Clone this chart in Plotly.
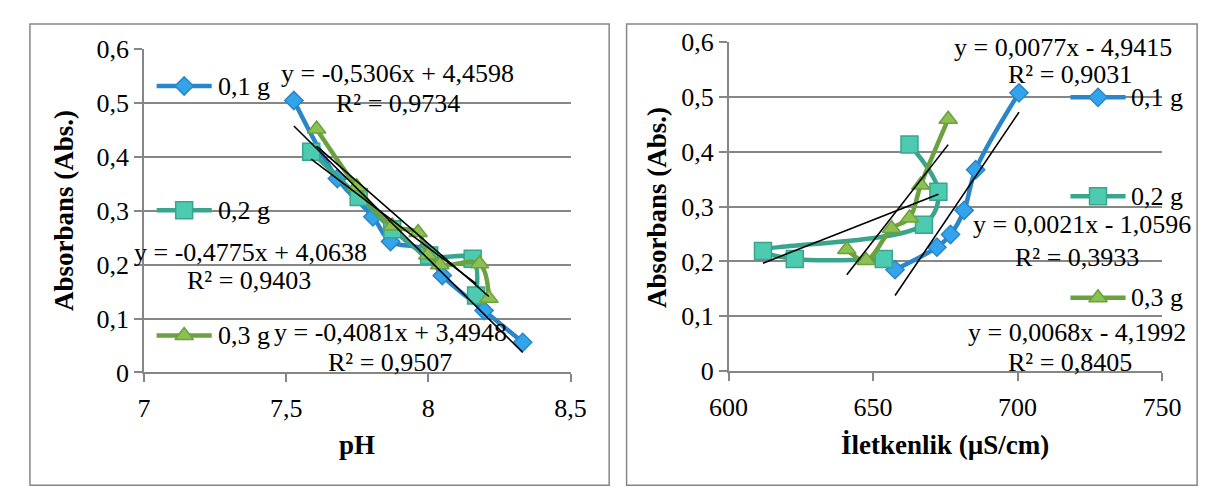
import numpy as np
import plotly.graph_objects as go

# ---------------- data ----------------
series_names = ["0,1 g", "0,2 g", "0,3 g"]

# left chart: pH vs absorbance
ph_01 = [7.527, 7.68, 7.805, 7.867, 7.986, 8.049, 8.196, 8.332]
abs_ph_01 = [0.505, 0.360, 0.289, 0.243, 0.228, 0.180, 0.115, 0.056]
ph_02 = [7.588, 7.755, 7.873, 8.003, 8.156, 8.168]
abs_ph_02 = [0.410, 0.326, 0.266, 0.217, 0.211, 0.143]
ph_03 = [7.607, 7.748, 7.873, 7.964, 7.998, 8.040, 8.180, 8.213]
abs_ph_03 = [0.452, 0.345, 0.272, 0.260, 0.218, 0.200, 0.202, 0.138]

# right chart: conductivity vs absorbance
cond_01 = [700.5, 685.5, 681.5, 676.8, 672.1, 657.6]
abs_c_01 = [0.507, 0.367, 0.293, 0.249, 0.226, 0.185]
cond_02 = [662.6, 672.6, 667.6, 611.9, 622.9, 653.7]
abs_c_02 = [0.413, 0.327, 0.267, 0.219, 0.2045, 0.2045]
cond_03 = [676.0, 666.5, 662.6, 656.4, 647.6, 640.9]
abs_c_03 = [0.459, 0.339, 0.279, 0.260, 0.2017, 0.2216]

eq_left = ["y = -0,5306x + 4,4598", "y = -0,4775x + 4,0638", "y = -0,4081x + 3,4948"]
r2_left = ["R² = 0,9734", "R² = 0,9403", "R² = 0,9507"]
eq_right = ["y = 0,0077x - 4,9415", "y = 0,0021x - 1,0596", "y = 0,0068x - 4,1992"]
r2_right = ["R² = 0,9031", "R² = 0,3933", "R² = 0,8405"]

x_title_left = "pH"
x_title_right = "İletkenlik (µS/cm)"
y_title = "Absorbans (Abs.)"

# ---------------- styles ----------------
W, H = 1213, 495
FONT = "Liberation Serif"
GRAY = "#868686"
line_cols = ["#2A86C8", "#3AA58C", "#6BA140"]
fill_cols = ["#33A3EC", "#4DCBB0", "#8DC050"]
symbols = ["diamond", "square", "triangle-up"]
msizes = [14, 17, 16]


def px(x):
    return x / W


def py(y):
    return 1 - y / H


fig = go.Figure()

left_sets = [(ph_01, abs_ph_01), (ph_02, abs_ph_02), (ph_03, abs_ph_03)]
right_sets = [(cond_01, abs_c_01), (cond_02, abs_c_02), (cond_03, abs_c_03)]

for sets, xa, ya in [(left_sets, "x", "y"), (right_sets, "x2", "y2")]:
    for i, (xs, ys) in enumerate(sets):
        fig.add_trace(go.Scatter(
            x=xs, y=ys, xaxis=xa, yaxis=ya, mode="lines+markers",
            line=dict(color=line_cols[i], width=4.5, shape="spline", smoothing=1),
            marker=dict(symbol=symbols[i], size=msizes[i], color=fill_cols[i],
                        line=dict(color=line_cols[i], width=1.5)),
            showlegend=False, hoverinfo="skip"))
    for i, (xs, ys) in enumerate(sets):
        k, b = np.polyfit(xs, ys, 1)
        xr = np.array([min(xs), max(xs)])
        fig.add_trace(go.Scatter(
            x=xr, y=k * xr + b, xaxis=xa, yaxis=ya, mode="lines",
            line=dict(color="black", width=1.6), showlegend=False, hoverinfo="skip"))

# legend samples (overlay axis in pixel units)
legend_left_y = [68, 200, 333]
legend_right_y = [80, 185, 293]
for ys_leg, x0, x1 in [(legend_left_y, 133, 190), (legend_right_y, 1078, 1135)]:
    for i, yy in enumerate(ys_leg):
        fig.add_trace(go.Scatter(
            x=[x0, x1], y=[yy, yy], xaxis="x3", yaxis="y3", mode="lines",
            line=dict(color=line_cols[i], width=4.5), showlegend=False, hoverinfo="skip"))
        fig.add_trace(go.Scatter(
            x=[(x0 + x1) / 2], y=[yy], xaxis="x3", yaxis="y3", mode="markers",
            marker=dict(symbol=symbols[i], size=msizes[i], color=fill_cols[i],
                        line=dict(color=line_cols[i], width=1.5)),
            showlegend=False, hoverinfo="skip"))

annotations = []


def txt(t, x, y, size=26, bold=False, anchor="center", angle=0):
    annotations.append(dict(
        text=("<b>%s</b>" % t) if bold else t, x=px(x), y=py(y),
        xref="paper", yref="paper", showarrow=False, xanchor=anchor, yanchor="middle",
        textangle=angle, font=dict(family=FONT, size=size, color="black")))


for i, yy in enumerate(legend_left_y):
    txt(series_names[i], 194, yy, anchor="left")
for i, yy in enumerate(legend_right_y):
    txt(series_names[i], 1139, yy, anchor="left")

left_lbl_pos = [(382, 55, 383, 87), (230, 245, 229, 275), (375, 330, 374, 362)]
right_lbl_pos = [(1070, 27, 1078, 56), (1090, 215, 1085, 250), (1085, 330, 1078, 362)]
for i, (ex, ey, rx, ry) in enumerate(left_lbl_pos):
    txt(eq_left[i], ex, ey)
    txt(r2_left[i], rx, ry)
for i, (ex, ey, rx, ry) in enumerate(right_lbl_pos):
    txt(eq_right[i], ex, ey)
    txt(r2_right[i], rx, ry)

txt(x_title_left, 340, 449, size=27, bold=True)
txt(x_title_right, 948, 449, size=27, bold=True)
txt(y_title, 38, 200, size=27, bold=True, angle=-90)
txt(y_title, 651, 197, size=27, bold=True, angle=-90)

axis_common = dict(showline=True, linecolor=GRAY, linewidth=1.5, ticks="outside",
                   ticklen=8, tickcolor=GRAY, tickwidth=1.5, zeroline=False,
                   tickfont=dict(family=FONT, size=26, color="black"), fixedrange=True)

fig.update_layout(
    width=W, height=H, margin=dict(l=0, r=0, t=0, b=0),
    paper_bgcolor="white", plot_bgcolor="rgba(0,0,0,0)",
    font=dict(family=FONT, color="black"),
    separators=", ", showlegend=False,
    xaxis=dict(domain=[px(120), px(561)], range=[7, 8.5], dtick=0.5, tick0=7,
               showgrid=False, anchor="y", ticklabelstandoff=4, **axis_common),
    yaxis=dict(domain=[py(372.3), py(29)], range=[0, 0.6], dtick=0.1, tick0=0,
               showgrid=True, gridcolor=GRAY, gridwidth=1.5, anchor="x", **axis_common),
    xaxis2=dict(domain=[px(724.5), px(1172.7)], range=[600, 750], dtick=50, tick0=600,
                showgrid=False, anchor="y2", ticklabelstandoff=4, **axis_common),
    yaxis2=dict(domain=[py(371), py(21)], range=[0, 0.6], dtick=0.1, tick0=0,
                showgrid=True, gridcolor=GRAY, gridwidth=1.5, anchor="x2", **axis_common),
    xaxis3=dict(domain=[0, 1], range=[0, W], visible=False, anchor="y3", fixedrange=True),
    yaxis3=dict(domain=[0, 1], range=[H, 0], visible=False, anchor="x3", fixedrange=True),
    annotations=annotations,
    shapes=[
        dict(type="rect", xref="paper", yref="paper", x0=px(2), x1=px(601), y0=py(492), y1=py(2),
             line=dict(color=GRAY, width=1.5)),
        dict(type="rect", xref="paper", yref="paper", x0=px(619), x1=px(1209), y0=py(492), y1=py(2),
             line=dict(color=GRAY, width=1.5)),
    ],
)

fig.write_html("out.html")
